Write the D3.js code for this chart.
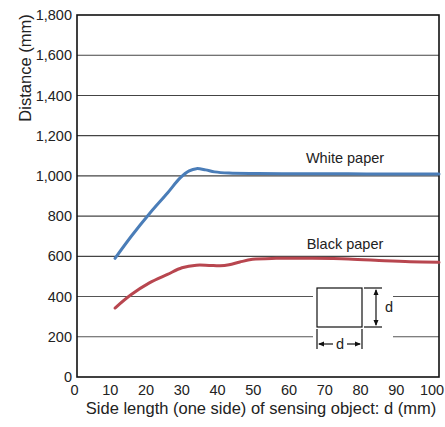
<!DOCTYPE html>
<html>
<head>
<meta charset="utf-8">
<script src="https://cdn.jsdelivr.net/npm/d3@7"></script>
<style>
  body { margin: 0; background: #fff; }
  text { font-family: "Liberation Sans", Arial, sans-serif; fill: #222; }
</style>
</head>
<body>
<script>
// values
var xTicks = [0, 10, 20, 30, 40, 50, 60, 70, 80, 90, 100];
var yTicks = [0, 200, 400, 600, 800, 1000, 1200, 1400, 1600, 1800];

var whiteX = [10.5, 15, 20, 25, 28.5, 31, 33, 35.5, 38, 42, 50, 60, 70, 80, 90, 100];
var whiteY = [590, 700, 812, 915, 990, 1025, 1036, 1030, 1020, 1014, 1012, 1011, 1011, 1010, 1010, 1010];

var blackX = [10.5, 15, 20, 25, 29, 33, 36.5, 39.5, 42, 45, 48.5, 55, 65, 75, 85, 92, 100];
var blackY = [343, 410, 468, 510, 543, 556, 555, 553, 558, 572, 585, 590, 590, 587, 578, 573, 570];

var seriesNames = ["White paper", "Black paper"];

var svgWidth = 445, svgHeight = 427;

var svg = d3.select("body").append("svg")
  .attr("width", svgWidth)
  .attr("height", svgHeight);

var x = d3.scaleLinear().domain([0, 100]).range([77, 439]);
var y = d3.scaleLinear().domain([0, 1800]).range([377, 15]);

// gridlines (200 and 400 are broken around the inset drawing)
var gapLeft = 313, gapRight = 393;
yTicks.filter(v => v > 0 && v < 1800).forEach(function(v) {
  if (v === 200 || v === 400) {
    svg.append("line").attr("x1", x(0)).attr("x2", gapLeft)
      .attr("y1", y(v)).attr("y2", y(v)).attr("stroke", "#555").attr("stroke-width", 1.1);
    svg.append("line").attr("x1", gapRight).attr("x2", x(100))
      .attr("y1", y(v)).attr("y2", y(v)).attr("stroke", "#555").attr("stroke-width", 1.1);
  } else {
    svg.append("line").attr("x1", x(0)).attr("x2", x(100))
      .attr("y1", y(v)).attr("y2", y(v)).attr("stroke", "#444").attr("stroke-width", 1.1);
  }
});

// frame
svg.append("rect")
  .attr("x", x(0)).attr("y", y(1800))
  .attr("width", x(100) - x(0)).attr("height", y(0) - y(1800))
  .attr("fill", "none").attr("stroke", "#111").attr("stroke-width", 1.6);

// axes
var bottomAxis = d3.axisBottom(x).tickValues(xTicks).tickSize(0).tickPadding(8);
var xAxis = svg.append("g").attr("transform", `translate(0, ${y(0)})`).call(bottomAxis);
xAxis.select(".domain").remove();
// labels in the original sit slightly left of the gridded positions
xAxis.selectAll("text").attr("dx", d => -3 - d * 0.045).style("font-size", "14.5px")
  .style("font-family", "Liberation Sans, Arial, sans-serif").attr("fill", "#222");

var leftAxis = d3.axisLeft(y).tickValues(yTicks).tickSize(0).tickPadding(5).tickFormat(d3.format(","));
var yAxis = svg.append("g").attr("transform", `translate(${x(0)}, 0)`).call(leftAxis);
yAxis.select(".domain").remove();
yAxis.selectAll("text").style("font-size", "14.5px")
  .style("font-family", "Liberation Sans, Arial, sans-serif").attr("fill", "#222");

// curves
var line = d3.line()
  .x(d => x(d[0]))
  .y(d => y(d[1]))
  .curve(d3.curveCatmullRom.alpha(0.5));

svg.append("path")
  .datum(whiteX.map((v, i) => [v, whiteY[i]]))
  .attr("d", line)
  .attr("fill", "none").attr("stroke", "#4a7db8").attr("stroke-width", 3)
  .attr("stroke-linecap", "round");

svg.append("path")
  .datum(blackX.map((v, i) => [v, blackY[i]]))
  .attr("d", line)
  .attr("fill", "none").attr("stroke", "#b8464f").attr("stroke-width", 3)
  .attr("stroke-linecap", "round");

// series labels
svg.append("text").attr("x", 345).attr("y", 163).attr("text-anchor", "middle")
  .style("font-size", "14.5px").text(seriesNames[0]);
svg.append("text").attr("x", 345).attr("y", 249).attr("text-anchor", "middle")
  .style("font-size", "14.5px").text(seriesNames[1]);

// inset: square with dimension marks
var inset = svg.append("g").attr("stroke", "#111").attr("stroke-width", 1.2).attr("fill", "none");
inset.append("rect").attr("x", 317).attr("y", 288).attr("width", 45).attr("height", 39);
// vertical dimension
inset.append("line").attr("x1", 364).attr("x2", 382).attr("y1", 288).attr("y2", 288);
inset.append("line").attr("x1", 364).attr("x2", 382).attr("y1", 327).attr("y2", 327);
inset.append("line").attr("x1", 376).attr("x2", 376).attr("y1", 290).attr("y2", 325);
// horizontal dimension
inset.append("line").attr("x1", 317).attr("x2", 317).attr("y1", 329).attr("y2", 349);
inset.append("line").attr("x1", 362).attr("x2", 362).attr("y1", 329).attr("y2", 349);
inset.append("line").attr("x1", 319).attr("x2", 333).attr("y1", 344).attr("y2", 344);
inset.append("line").attr("x1", 347).attr("x2", 360).attr("y1", 344).attr("y2", 344);

var heads = svg.append("g").attr("fill", "#111");
heads.append("path").attr("d", "M376,289 L373.5,295 L378.5,295 Z");
heads.append("path").attr("d", "M376,326 L373.5,320 L378.5,320 Z");
heads.append("path").attr("d", "M318,344 L324,341.5 L324,346.5 Z");
heads.append("path").attr("d", "M361,344 L355,341.5 L355,346.5 Z");

svg.append("text").attr("x", 385).attr("y", 312).style("font-size", "14.5px").text("d");
svg.append("text").attr("x", 340).attr("y", 349).attr("text-anchor", "middle")
  .style("font-size", "14.5px").text("d");

// axis titles
svg.append("text")
  .attr("x", 261).attr("y", 414)
  .attr("text-anchor", "middle")
  .style("font-size", "16.5px")
  .text("Side length (one side) of sensing object: d (mm)");

svg.append("text")
  .attr("transform", "translate(31, 68) rotate(-90)")
  .attr("text-anchor", "middle")
  .style("font-size", "16.5px")
  .text("Distance (mm)");
</script>
</body>
</html>
